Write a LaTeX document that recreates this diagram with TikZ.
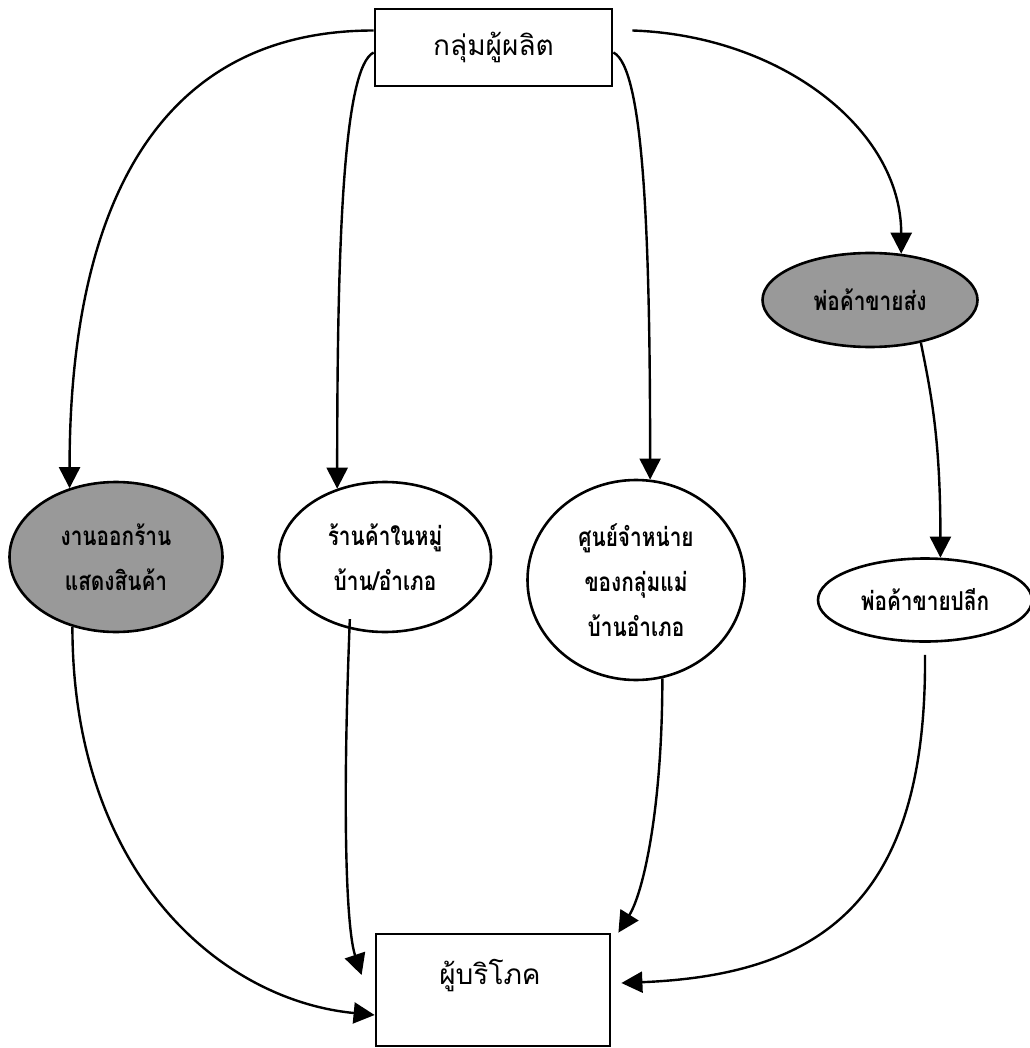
\documentclass[tikz,border=0pt]{standalone}
\usepackage{fontspec}
\newfontfamily\thaifont[Script=Thai]{Loma}
\newfontfamily\thaicond[Script=Thai, FakeStretch=0.8]{Loma}
\usetikzlibrary{arrows.meta,shapes.geometric}
\begin{document}
\begin{tikzpicture}[x=1pt,y=-1pt,
 boxst/.style={draw, line width=2.8pt, rectangle, inner sep=0pt},
 ovalst/.style={draw, line width=2.6pt, ellipse, inner sep=0pt, align=center, font=\thaicond\bfseries\fontsize{26}{45}\selectfont},
 grayfill/.style={fill=black!40},
 arr/.style={line width=2.4pt, -{Triangle[length=21pt,width=21pt]}},
 boxtext/.style={font=\thaifont\fontsize{28}{30}\selectfont}
]
\useasboundingbox (0,0) rectangle (1029,1048);
\node[boxst, boxtext, minimum width=237pt, minimum height=77pt] (prod) at (493.5,47.5) {กลุ่มผู้ผลิต};
\node[ovalst, grayfill, minimum width=213pt, minimum height=150pt] (fair) at (116,557) {งานออกร้าน\\แสดงสินค้า};
\node[ovalst, minimum width=212pt, minimum height=150pt] (shop) at (385,557) {ร้านค้าในหมู่\\บ้าน/อำเภอ};
\node[ovalst, minimum width=217pt, minimum height=200pt] (dist) at (636,580) {ศูนย์จำหน่าย\\ของกลุ่มแม่\\บ้านอำเภอ};
\node[ovalst, grayfill, minimum width=215pt, minimum height=94pt] (whole) at (870,300) {พ่อค้าขายส่ง};
\node[ovalst, minimum width=214pt, minimum height=83pt] (retail) at (925,600) {พ่อค้าขายปลีก};
\node[boxst, minimum width=234pt, minimum height=112pt] (cons) at (493,990) {};
\node[boxtext] (conslbl) at (490,976) {ผู้บริโภค};

\draw[arr] ([yshift=17pt]prod.west) .. controls +(-225,0) and +(0,-267) .. (fair.124);
\draw[arr] ([yshift=-5pt]prod.west) .. controls +(-30,15) and +(0,-250) .. (shop.125);
\draw[arr] ([yshift=-5pt]prod.east) .. controls +(30,15) and +(0,-250) .. (dist.82);
\draw[arr] ([xshift=19pt,yshift=17pt]prod.east) .. controls +(148,5) and +(0,-125) .. (whole.56);
\draw[arr] (whole.-40) .. controls +(10,50) and +(0,-120) .. (retail.70);
\draw[arr] (fair.-122) .. controls +(0,244) and +(-156,-15) .. ([yshift=-25pt]cons.west);
\draw[arr] ([yshift=10pt]shop.-116) .. controls +(-8,200) and +(-15,-45) .. ([xshift=-13pt,yshift=15pt]cons.west);
\draw[arr] (dist.-75) .. controls +(0,130) and +(25,-40) .. ([xshift=7pt]cons.north east);
\draw[arr] ([yshift=-12pt]retail.south) .. controls +(2,246) and +(200,-8) .. ([xshift=10pt,yshift=7pt]cons.east);
\end{tikzpicture}
\end{document}
